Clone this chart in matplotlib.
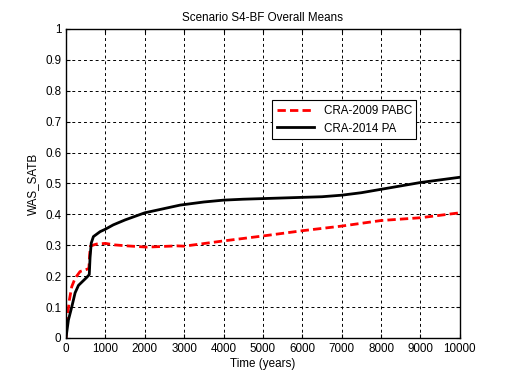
import numpy as np
import matplotlib.pyplot as plt

plt.rcParams['font.family'] = ['Liberation Sans', 'DejaVu Sans']

# CRA-2009 PABC (red dashed)
t_2009 = [0, 15, 34, 85, 145, 230, 356, 525, 580, 600, 620, 700, 780, 1000, 1250,
          1545, 2050, 2815, 3000, 4000, 5000, 6000, 7000, 8000, 9000, 10000]
y_2009 = [0.0, 0.03, 0.069, 0.123, 0.166, 0.193, 0.215, 0.222, 0.225, 0.27, 0.297, 0.301, 0.304,
          0.306, 0.301, 0.298, 0.294, 0.298, 0.297, 0.314, 0.330, 0.347, 0.362, 0.380, 0.389, 0.405]

# CRA-2014 PA (black solid)
t_2014 = [0, 15, 60, 145, 230, 315, 525, 590, 610, 640, 695, 865, 1000, 1200, 1500,
          2000, 2900, 3500, 4000, 4500, 5000, 6000, 6500, 7000, 7500, 8000, 9000, 10000]
y_2014 = [0.0, 0.016, 0.058, 0.10, 0.146, 0.17, 0.196, 0.205, 0.26, 0.307, 0.328, 0.344,
          0.352, 0.366, 0.382, 0.405, 0.430, 0.440, 0.446, 0.449, 0.451, 0.455, 0.457,
          0.462, 0.470, 0.481, 0.503, 0.520]

xticks = np.arange(0, 10001, 1000)
yticks = np.round(np.arange(0, 1.01, 0.1), 1)

fig = plt.figure(figsize=(5.08, 3.81), dpi=100)
ax = fig.add_axes([0.13, 0.113, 0.775, 0.811])

ax.plot(t_2009, y_2009, color='red', linestyle=(0, (3, 1.5)), linewidth=2, label='CRA-2009 PABC')
ax.plot(t_2014, y_2014, color='black', linewidth=2, label='CRA-2014 PA')

ax.set_xlim(0, 10000)
ax.set_ylim(0, 1)
ax.set_xticks(xticks)
ax.set_yticks(yticks)
ax.set_yticklabels(['0' if v == 0 else ('1' if v == 1 else f'{v:g}') for v in yticks])
ax.tick_params(direction='in', top=True, right=True, labelsize=8.4, length=3, colors='black')
ax.grid(True, color='black', linestyle=(0, (3, 3)), linewidth=0.7)
for s in ax.spines.values():
    s.set_linewidth(1)

ax.set_title('Scenario S4-BF Overall Means', fontsize=8.4, pad=6)
ax.set_xlabel('Time (years)', fontsize=8.4, labelpad=2)
ax.set_ylabel('WAS_SATB', fontsize=8.4, labelpad=4)

leg = ax.legend(loc='upper right', bbox_to_anchor=(0.89, 0.77), fontsize=8.4, fancybox=False,
                framealpha=1, edgecolor='black', borderaxespad=0, handlelength=3.2)
leg.get_frame().set_linewidth(0.8)

fig.savefig('out.png', dpi=100)
